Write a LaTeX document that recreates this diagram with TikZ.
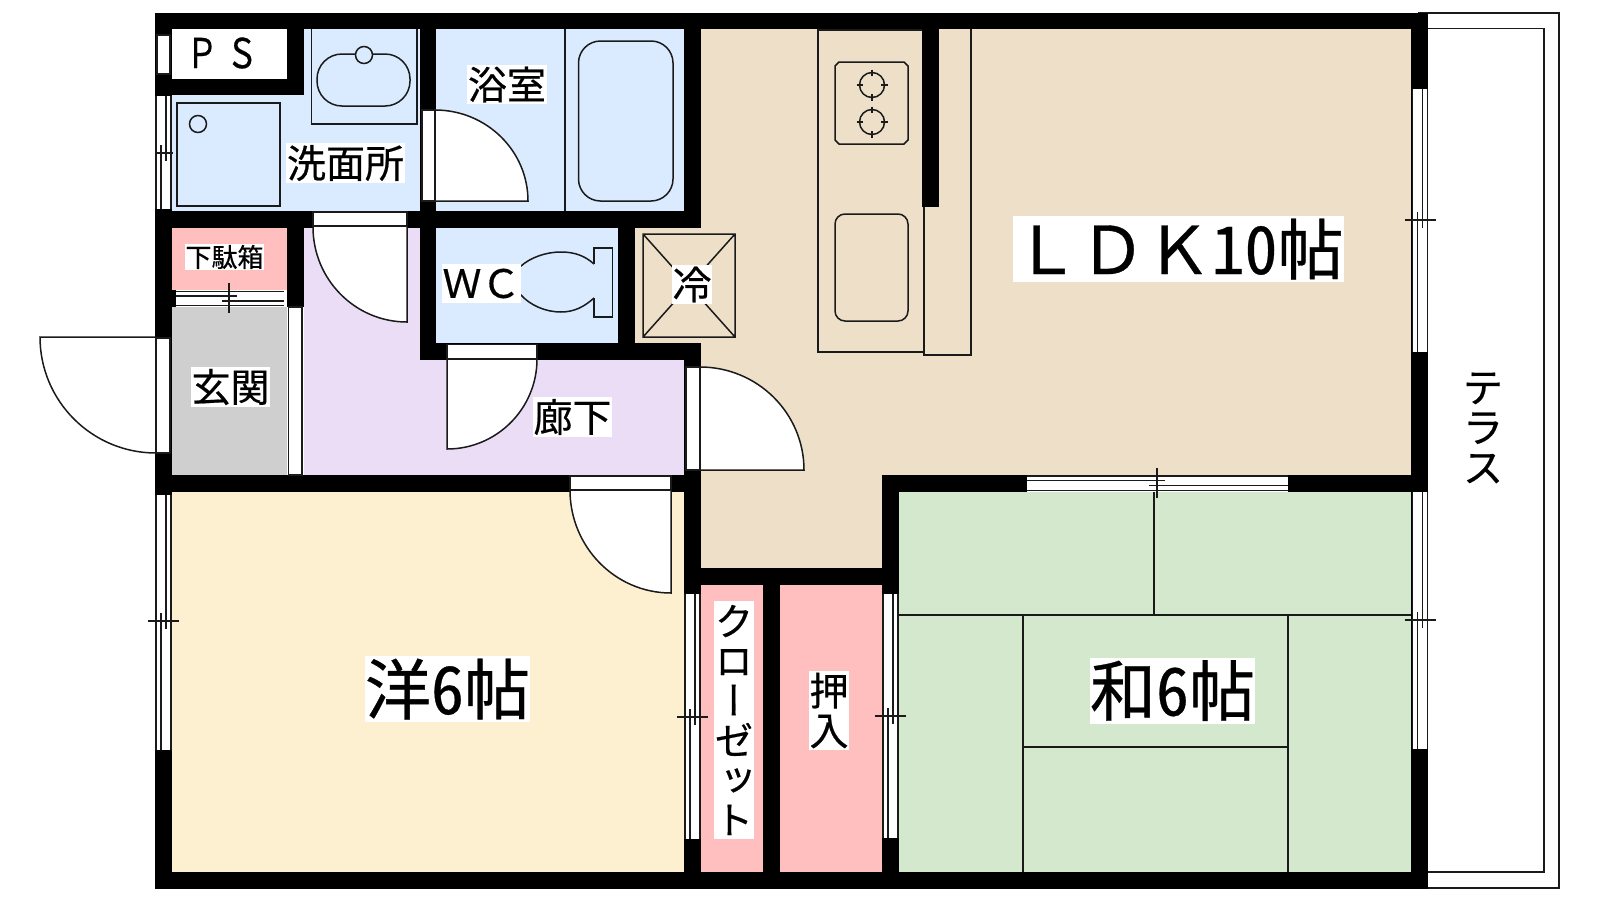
\documentclass[tikz,border=0pt]{standalone}
\usepackage{fontspec}
\setmainfont{Noto Sans CJK JP}[FakeBold=0.5]
\newfontfamily\cjkv[RawFeature=+vert,FakeBold=0.5]{Noto Sans CJK JP}
\newfontfamily\cjkh[RawFeature=+hwid,FakeBold=0.5]{Noto Sans CJK JP}
\definecolor{bluef}{HTML}{DBEBFF}
\definecolor{pinkf}{HTML}{FFBFBF}
\definecolor{grayf}{HTML}{CFCFCF}
\definecolor{purpf}{HTML}{ECDDF6}
\definecolor{tanf}{HTML}{EEDFC8}
\definecolor{creamf}{HTML}{FDF0D0}
\definecolor{greenf}{HTML}{D3E8CD}
\definecolor{ink}{HTML}{1A1A1A}
\tikzset{
  thin line/.style={draw=ink,line width=1.5pt},
  wall/.style={fill=black,draw=none},
  frame/.style={fill=white,draw=ink,line width=1.2pt},
  door/.style={fill=white,draw=ink,line width=1.5pt},
  label box/.style={fill=white,inner sep=0pt,align=center,text=black,anchor=center},
}
\newcommand{\fs}[1]{\fontsize{#1}{#1}\selectfont}
% \vwin{x0}{y0}{y1}{ytick}{half tick extent}
\newcommand{\vwin}[5]{%
  \fill[white] (#1,#2) rectangle ++(16.5,#3-#2);
  \draw[thin line] (#1+1,#2) -- (#1+1,#3) (#1+16,#2) -- (#1+16,#3);
  \draw[thin line] (#1+11,#2) -- (#1+11,#4+8) (#1+6,#4-8) -- (#1+6,#3);
  \draw[thin line] (#1+8.5-#5,#4) -- (#1+8.5+#5,#4);
}
\begin{document}
\begin{tikzpicture}[x=1pt,y=-1pt]
\useasboundingbox (0,0) rectangle (1600,900);
% floors
\fill[bluef] (172,29) rectangle (420,211);
\fill[bluef] (436,29) rectangle (684,211);
\fill[bluef] (436,228) rectangle (618,343);
\fill[pinkf] (172,228) rectangle (287,290);
\fill[grayf] (172,307) rectangle (287,475);
\fill[purpf] (304,228) rectangle (420,475);
\fill[purpf] (420,360) rectangle (684,475);
\fill[tanf] (701,29) rectangle (1411,475);
\fill[tanf] (701,475) rectangle (882,568);
\fill[tanf] (635,228) rectangle (701,343);
\fill[creamf] (172,492) rectangle (684,872);
\fill[pinkf] (701,585) rectangle (763,872);
\fill[pinkf] (780,585) rectangle (882,872);
\fill[greenf] (899,492) rectangle (1411,872);
\fill[white] (172,29) rectangle (287,79);
% terrace
\draw[thin line,fill=white] (1418,13) -- (1559,13) -- (1559,888) -- (1428,888);
\draw[thin line] (1428,28.5) -- (1544,28.5) -- (1544,872) -- (1428,872);
% kitchen fixtures
\draw[thin line] (924,30) -- (818,30) -- (818,352) -- (924,352);
\draw[thin line] (924,207) -- (924,355) -- (971,355) -- (971,29);
\draw[thin line] (839,62) -- (904,62) -- (908,66) -- (908,140) -- (904,144) -- (839,144) -- (835,140) -- (835,66) -- cycle;
\foreach \by in {85,122}{
  \draw[thin line] (872,\by) circle[radius=12.5];
  \draw[thin line] (872,\by-15.5) -- (872,\by-9) (872,\by+9) -- (872,\by+15.5) (856.5,\by) -- (863,\by) (881,\by) -- (887.5,\by);
}
\draw[thin line,rounded corners=10pt] (835,214) rectangle (908,321);
% bathroom fixtures
\draw[thin line] (311.5,29) -- (311.5,124) -- (417,124) -- (417,29);
\draw[thin line,rounded corners=25pt] (317,54) rectangle (410,106);
\draw[thin line,fill=bluef] (364,55) circle[radius=8.5];
\draw[thin line] (177,103) rectangle (280,206);
\draw[thin line] (198,124) circle[radius=8.5];
\draw[thin line] (565,29) -- (565,211);
\draw[thin line,rounded corners=22pt] (578.5,41) rectangle (673,201);
% toilet
\draw[thin line] (594,264) .. controls (585,256) and (575,252) .. (561,252) .. controls (545,252) and (530,258) .. (521,266) .. controls (505,275) and (505,288) .. (521,295) .. controls (530,305) and (545,312) .. (561,312) .. controls (575,312) and (585,306) .. (594,298);
\draw[thin line] (594,264) -- (594,248) -- (612.5,248) -- (612.5,317) -- (594,317) -- (594,298);
% fridge
\draw[thin line] (643,234) rectangle (735,337) (643,234) -- (735,337) (735,234) -- (643,337);
% walls
\fill[wall] (155,13) rectangle (1428,29);
\fill[wall] (155,872) rectangle (1428,889);
\fill[wall] (155,13) rectangle (172,889);
\fill[wall] (1411,13) rectangle (1428,889);
\fill[wall] (155,79) rectangle (304,95);
\fill[wall] (287,29) rectangle (304,95);
\fill[wall] (420,29) rectangle (436,360);
\fill[wall] (155,211) rectangle (701,228);
\fill[wall] (684,13) rectangle (701,228);
\fill[wall] (287,228) rectangle (304,307);
\fill[wall] (172,290) rectangle (176,307);
\fill[wall] (618,228) rectangle (635,360);
\fill[wall] (420,343) rectangle (701,360);
\fill[wall] (684,343) rectangle (701,594);
\fill[wall] (155,475) rectangle (701,492);
\fill[wall] (684,568) rectangle (899,585);
\fill[wall] (882,475) rectangle (899,594);
\fill[wall] (882,475) rectangle (1428,492);
\fill[wall] (684,594) rectangle (701,872);
\fill[wall] (763,568) rectangle (780,872);
\fill[wall] (882,594) rectangle (899,872);
\fill[wall] (922,29) rectangle (939,207);
% sliding windows
\vwin{155}{96}{209}{153}{9}
\vwin{155}{495}{750}{621}{15.5}
\vwin{684}{594}{839}{717}{15.5}
\vwin{882}{594}{838}{716}{15.5}
\vwin{1411.5}{89}{352}{220}{15.5}
\vwin{1411.5}{492}{749}{620}{15.5}
% vent
\draw[frame] (157,35) rectangle (170,74);
% horizontal window of the washitsu
\fill[white] (1027,475) rectangle (1288,492);
\draw[thin line] (1027,476) -- (1288,476) (1027,490.5) -- (1288,490.5) (1027,480.5) -- (1165,480.5) (1149,485.5) -- (1288,485.5) (1157,468) -- (1157,498);
% genkan window
\fill[white] (176,290) rectangle (284,307);
\draw[thin line] (176,291.5) -- (284,291.5) (176,305.5) -- (284,305.5) (176,296) -- (237,296) (222,301) -- (284,301) (229,283) -- (229,313);
% genkan step
\fill[white] (287,307) rectangle (304,475);
\draw[frame] (288.5,307) rectangle (302,475);
% tatami
\draw[thin line] (899,615) -- (1411,615) (1154,492) -- (1154,615) (1023,615) -- (1023,872) (1288,615) -- (1288,872) (1023,747) -- (1288,747);
% doors
\draw[door] (156,337) -- (40,337) arc[start angle=180,end angle=90,radius=116];
\draw[frame] (156,338) rectangle (170,453);
\draw[door] (435,201) -- (528,201) arc[start angle=0,end angle=-90,x radius=93,y radius=91];
\draw[frame] (422,110) rectangle (435,201);
\draw[door] (407,227) -- (407,322) arc[start angle=90,end angle=180,x radius=94,y radius=95];
\draw[frame] (313,212) rectangle (407,226);
\draw[door] (447,359) -- (447,449) arc[start angle=90,end angle=0,x radius=90,y radius=90];
\draw[frame] (447,344.5) rectangle (537,359);
\draw[door] (700,470) -- (804,470) arc[start angle=0,end angle=-90,x radius=104,y radius=103];
\draw[frame] (686,367) rectangle (700,470);
\draw[door] (671,490) -- (671,593) arc[start angle=90,end angle=180,x radius=101,y radius=103];
\draw[frame] (570,476) rectangle (671,490);
% labels
\node[inner sep=0pt,font=\fs{40}] (ps) at (222,53) {\scalebox{0.8}[1.03]{Ｐ}\hspace{8pt}\scalebox{0.8}[1.03]{Ｓ}};
\node[label box,minimum width=79.5pt,minimum height=39pt,font=\fs{39}] (bath) at (507,84.5) {浴室};
\node[label box,minimum width=119pt,minimum height=40pt,font=\fs{39}] (wash) at (345.5,163) {洗面所};
\node[label box,minimum width=79pt,minimum height=26pt,font=\fs{26}] (shoes) at (224.5,257) {下駄箱};
\node[label box,minimum width=79pt,minimum height=39pt,font=\fs{39}] (wc) at (481.5,283.5) {ＷＣ};
\node[label box,minimum width=40pt,minimum height=39pt,font=\fs{39}] (fr) at (692,284.5) {冷};
\node[label box,minimum width=79pt,minimum height=40pt,font=\fs{39}] (gk) at (230.5,387) {玄関};
\node[label box,minimum width=79pt,minimum height=40pt,font=\fs{39}] (hall) at (572.5,417) {廊下};
\node[label box,minimum width=331pt,minimum height=66pt,font=\fs{66}] (ldk) at (1178.5,249) {ＬＤＫ{\cjkh 10}帖};
\node[label box,minimum width=165pt,minimum height=66pt,font=\fs{66}] (yo) at (447.5,689) {洋{\cjkh 6}帖};
\node[label box,minimum width=165pt,minimum height=66pt,font=\fs{66}] (wa) at (1172.5,690.5) {和{\cjkh 6}帖};
\node[label box,minimum width=40pt,minimum height=238pt,font={\fontsize{39}{39.7}\selectfont\cjkv}] (cl) at (734,720) {ク\\ロ\\ー\\ゼ\\ッ\\ト};
\node[label box,minimum width=40pt,minimum height=79pt,font={\fontsize{39}{39.7}\selectfont}] (osh) at (829,710.5) {押\\入};
\node[inner sep=0pt,align=center,font={\fontsize{40}{40}\selectfont}] (ter) at (1483,428) {テ\\ラ\\ス};
\end{tikzpicture}
\end{document}
